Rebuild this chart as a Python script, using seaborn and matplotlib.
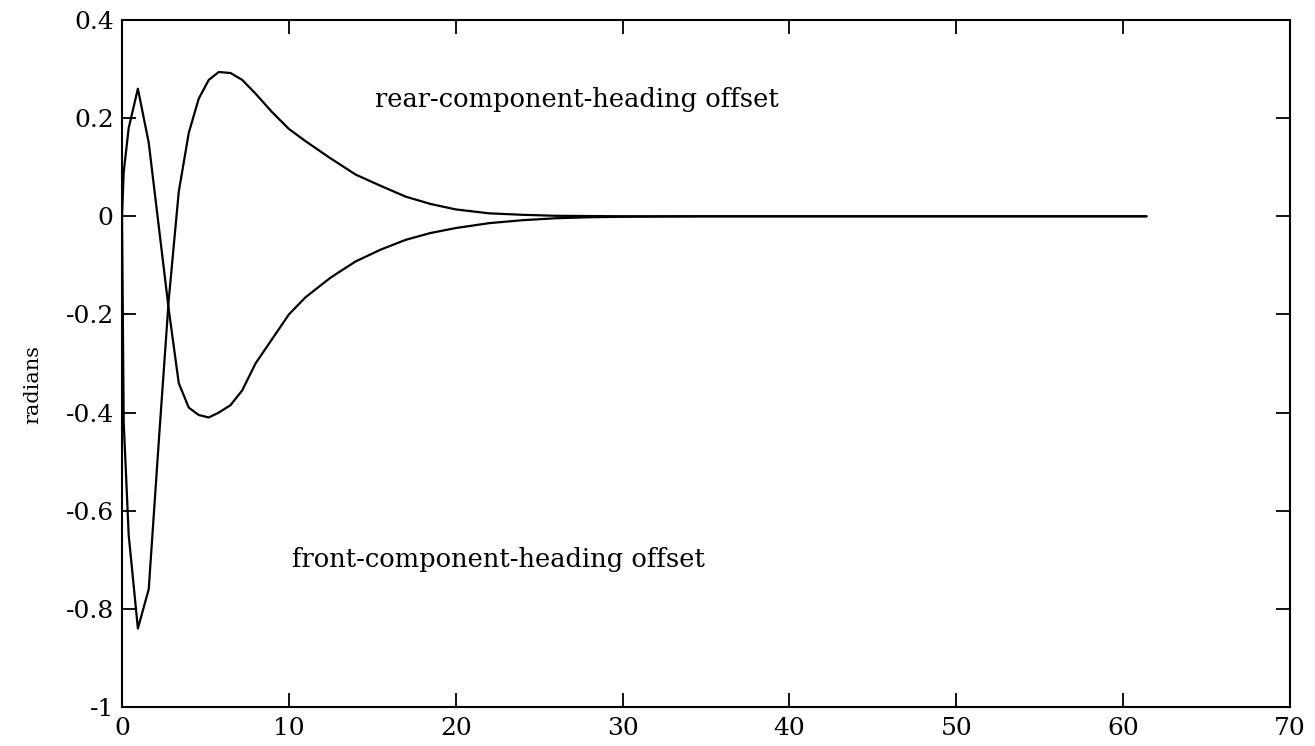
import numpy as np
import pandas as pd
import matplotlib
matplotlib.use("Agg")
import matplotlib.pyplot as plt
import seaborn as sns

# ---- data ----
t = [0, 0.1, 0.4, 0.95, 1.6, 2.2, 2.8, 3.4, 4.0, 4.6, 5.2, 5.8, 6.5, 7.2,
     8.0, 9.0, 10.0, 11.0, 12.5, 14.0, 15.5, 17.0, 18.5, 20.0, 22.0, 24.0,
     26.0, 28.0, 30.0, 35.0, 40.0, 45.0, 50.0, 55.0, 61.4]

# curve that rises first (peak ~0.26), then dips to ~-0.41
curve_a = [0.0, 0.09, 0.18, 0.26, 0.15, -0.02, -0.19, -0.34, -0.39, -0.405,
           -0.41, -0.40, -0.385, -0.355, -0.30, -0.25, -0.20, -0.165, -0.125,
           -0.092, -0.068, -0.048, -0.034, -0.024, -0.014, -0.008, -0.004,
           -0.002, -0.001, 0.0, 0.0, 0.0, 0.0, 0.0, 0.0]

# curve that dips first (~-0.84), then peaks at ~0.29
curve_b = [0.0, -0.42, -0.65, -0.84, -0.76, -0.46, -0.17, 0.05, 0.17, 0.24,
           0.278, 0.294, 0.292, 0.278, 0.250, 0.212, 0.178, 0.153, 0.118,
           0.085, 0.062, 0.040, 0.025, 0.014, 0.006, 0.003, 0.001, 0.0005,
           0.0, 0.0, 0.0, 0.0, 0.0, 0.0, 0.0]

xticks = [0, 10, 20, 30, 40, 50, 60, 70]
yticks = [0.4, 0.2, 0, -0.2, -0.4, -0.6, -0.8, -1]
yticklabels = ["0.4", "0.2", "0", "-0.2", "-0.4", "-0.6", "-0.8", "-1"]
xticklabels = ["0", "10", "20", "30", "40", "50", "60", "70"]

label_rear = "rear-component-heading offset"
label_front = "front-component-heading offset"
ylabel = "radians"

df = pd.DataFrame({
    "t": t + t,
    "value": curve_a + curve_b,
    "series": ["a"] * len(t) + ["b"] * len(t),
})

sns.set_style("ticks")
plt.rcParams["font.family"] = ["DejaVu Serif"]
plt.rcParams["axes.unicode_minus"] = False
for key in ["text.color", "axes.labelcolor", "xtick.color", "ytick.color",
            "axes.edgecolor"]:
    plt.rcParams[key] = "black"

fig = plt.figure(figsize=(13.15, 7.46), dpi=100)
ax = fig.add_axes([0.0928, 0.0523, 0.8882, 0.9209])

sns.lineplot(data=df, x="t", y="value", hue="series",
             palette=["black", "black"], legend=False, estimator=None,
             linewidth=1.6, ax=ax)

ax.set_xlim(0, 70)
ax.set_ylim(-1, 0.4)
ax.set_xticks(xticks)
ax.set_xticklabels(xticklabels, fontsize=18)
ax.set_yticks(yticks)
ax.set_yticklabels(yticklabels, fontsize=18)
ax.tick_params(axis="both", direction="in", length=10, width=1.3,
               top=True, right=True, colors="black", labelcolor="black")
ax.tick_params(axis="x", pad=7)
ax.tick_params(axis="y", pad=6)
for s in ax.spines.values():
    s.set_linewidth(1.5)
    s.set_color("black")
    s.set_visible(True)

ax.set_xlabel("")
ax.set_ylabel(ylabel, fontsize=15, color="black")
ax.yaxis.set_label_coords(-0.068, 0.47)

ax.text(15.15, 0.237, label_rear, fontsize=18.5, va="center", ha="left",
        color="black")
ax.text(10.2, -0.70, label_front, fontsize=18.5, va="center", ha="left",
        color="black")

fig.savefig("out.png", dpi=100, facecolor="white")
